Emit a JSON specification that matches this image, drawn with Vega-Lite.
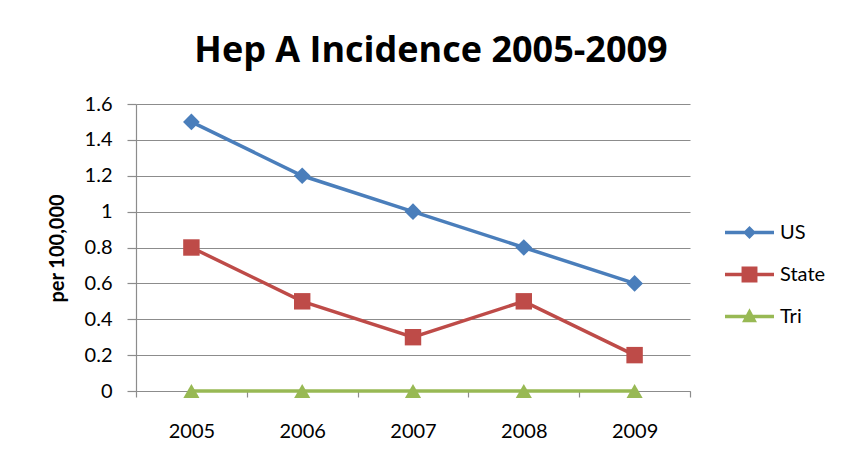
{
  "$schema": "https://vega.github.io/schema/vega-lite/v6.json",
  "autosize": "none",
  "width": 554,
  "height": 287,
  "padding": {"left": 136, "top": 104, "right": 153, "bottom": 75},
  "background": "white",
  "title": {
    "text": "Hep A Incidence 2005-2009",
    "font": "Open Sans",
    "fontSize": 36,
    "fontWeight": "bold",
    "color": "#000000",
    "anchor": "middle",
    "frame": "group",
    "dx": 18,
    "offset": 24
  },
  "config": {
    "view": {"stroke": null},
    "font": "Lato",
    "axis": {
      "labelFont": "Lato",
      "labelFontSize": 20,
      "labelColor": "#000000",
      "domainColor": "#8c8c8c",
      "tickColor": "#8c8c8c",
      "gridColor": "#8c8c8c",
      "domainWidth": 1.2,
      "tickWidth": 1.2,
      "gridWidth": 1.2
    }
  },
  "data": {
    "values": [
      {"year": "2005", "series": "US", "value": 1.5},
      {"year": "2006", "series": "US", "value": 1.2},
      {"year": "2007", "series": "US", "value": 1.0},
      {"year": "2008", "series": "US", "value": 0.8},
      {"year": "2009", "series": "US", "value": 0.6},
      {"year": "2005", "series": "State", "value": 0.8},
      {"year": "2006", "series": "State", "value": 0.5},
      {"year": "2007", "series": "State", "value": 0.3},
      {"year": "2008", "series": "State", "value": 0.5},
      {"year": "2009", "series": "State", "value": 0.2},
      {"year": "2005", "series": "Tri", "value": 0},
      {"year": "2006", "series": "Tri", "value": 0},
      {"year": "2007", "series": "Tri", "value": 0},
      {"year": "2008", "series": "Tri", "value": 0},
      {"year": "2009", "series": "Tri", "value": 0}
    ]
  },
  "encoding": {
    "x": {
      "field": "year",
      "type": "ordinal",
      "scale": {"type": "band", "paddingInner": 0, "paddingOuter": 0},
      "axis": {
        "title": null,
        "labelAngle": 0,
        "tickBand": "extent",
        "tickSize": 6,
        "labelPadding": 24,
        "grid": false
      }
    },
    "y": {
      "field": "value",
      "type": "quantitative",
      "scale": {"domain": [0, 1.6], "nice": false},
      "axis": {
        "title": "per 100,000",
        "titleFont": "Lato",
        "titleFontSize": 20,
        "titleFontWeight": "bold",
        "titleColor": "#000000",
        "titleX": -79,
        "titleY": 144,
        "titleAlign": "center",
        "titleBaseline": "middle",
        "titleAngle": -90,
        "values": [0, 0.2, 0.4, 0.6, 0.8, 1, 1.2, 1.4, 1.6],
        "format": "~g",
        "tickSize": 9,
        "labelPadding": 15,
        "grid": true
      }
    }
  },
  "resolve": {"scale": {"color": "independent"}, "legend": {"color": "independent"}},
  "layer": [
    {
      "mark": {"type": "line", "strokeWidth": 3.5},
      "encoding": {
        "color": {
          "field": "series",
          "type": "nominal",
          "scale": {"domain": ["US", "State", "Tri"], "range": ["#4A7EBB", "#BE4B48", "#98B954"]},
          "legend": {
            "title": null,
            "orient": "none",
            "legendX": 601,
            "legendY": 116,
            "padding": 0,
            "rowPadding": 19,
            "labelOffset": 18,
            "labelFont": "Lato",
            "labelFontSize": 20,
            "labelColor": "#000000",
            "symbolSize": 600,
            "encode": {
              "symbols": {
                "update": {
                  "shape": {"signal": "datum.value === 'US' ? 'M-2,-0.14L2,-0.14L2,0.14L-2,0.14ZM0,-0.53L0.53,0L0,0.53L-0.53,0Z' : datum.value === 'State' ? 'M-2,-0.14L2,-0.14L2,0.14L-2,0.14ZM-0.65,-0.65L0.65,-0.65L0.65,0.65L-0.65,0.65Z' : 'M-2,-0.14L2,-0.14L2,0.14L-2,0.14ZM0,-0.68L0.61,0.47L-0.61,0.47Z'"},
                  "fill": {"signal": "datum.value === 'US' ? '#4A7EBB' : datum.value === 'State' ? '#BE4B48' : '#98B954'"},
                  "fillOpacity": {"value": 1},
                  "opacity": {"value": 1},
                  "strokeWidth": {"value": 0},
                  "size": {"value": 600}
                }
              }
            }
          }
        }
      }
    },
    {
      "mark": {"type": "point", "filled": true, "opacity": 1},
      "encoding": {
        "color": {
          "field": "series",
          "type": "nominal",
          "scale": {"domain": ["US", "State", "Tri"], "range": ["#4A7EBB", "#BE4B48", "#98B954"]},
          "legend": null
        },
        "shape": {
          "field": "series",
          "type": "nominal",
          "scale": {"domain": ["US", "State", "Tri"], "range": ["diamond", "square", "triangle-up"]},
          "legend": null
        },
        "size": {
          "field": "series",
          "type": "nominal",
          "scale": {"domain": ["US", "State", "Tri"], "range": [280, 260, 320]},
          "legend": null
        }
      }
    }
  ]
}
